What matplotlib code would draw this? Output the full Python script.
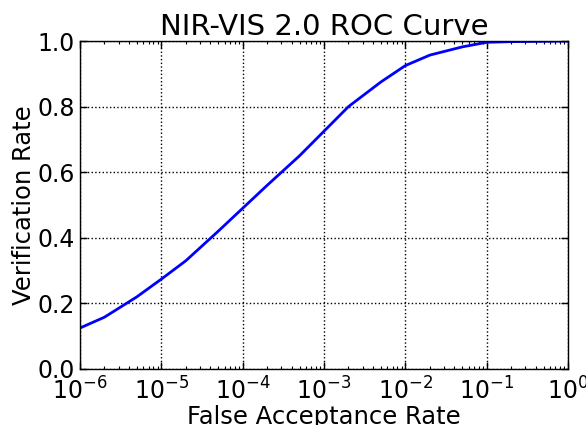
import matplotlib
matplotlib.use('Agg')
import matplotlib.pyplot as plt

# ROC points
far = [1e-6, 2e-6, 5e-6, 1e-5, 2e-5, 5e-5, 1e-4, 2e-4, 5e-4, 1e-3,
       2e-3, 5e-3, 1e-2, 2e-2, 5e-2, 1e-1, 2e-1, 5e-1, 1.0]
vr = [0.125, 0.158, 0.22, 0.274, 0.33, 0.42, 0.49, 0.56, 0.65, 0.725,
      0.80, 0.875, 0.925, 0.957, 0.982, 0.996, 0.998, 0.999, 1.0]

plt.rcParams['font.family'] = 'DejaVu Sans'
plt.rcParams['mathtext.default'] = 'regular'
plt.rcParams['xtick.direction'] = 'in'
plt.rcParams['ytick.direction'] = 'in'
plt.rcParams['xtick.top'] = True
plt.rcParams['ytick.right'] = True

fig = plt.figure(figsize=(5.86, 4.25), dpi=100)
ax = fig.add_axes([80 / 586, 1 - 369 / 425, 488 / 586, 328 / 425])

ax.plot(far, vr, color='b', linewidth=2)
ax.set_xscale('log')
ax.set_xlim(1e-6, 1)
ax.set_ylim(0, 1)
ax.set_yticks([0, 0.2, 0.4, 0.6, 0.8, 1.0])
ax.set_yticklabels(['0.0', '0.2', '0.4', '0.6', '0.8', '1.0'])
ax.grid(True, color='k', linestyle=':', linewidth=1)

ax.tick_params(which='major', length=5, width=1, labelsize=17)
ax.tick_params(which='minor', length=2.5, width=0.8)
ax.tick_params(axis='x', pad=6)
for s in ax.spines.values():
    s.set_linewidth(1)

ax.set_title('NIR-VIS 2.0 ROC Curve', fontsize=21, pad=4)
ax.set_xlabel('False Acceptance Rate', fontsize=17.5, labelpad=0)
ax.set_ylabel('Verification Rate', fontsize=17.5, labelpad=1)

plt.savefig('out.png', dpi=100)
